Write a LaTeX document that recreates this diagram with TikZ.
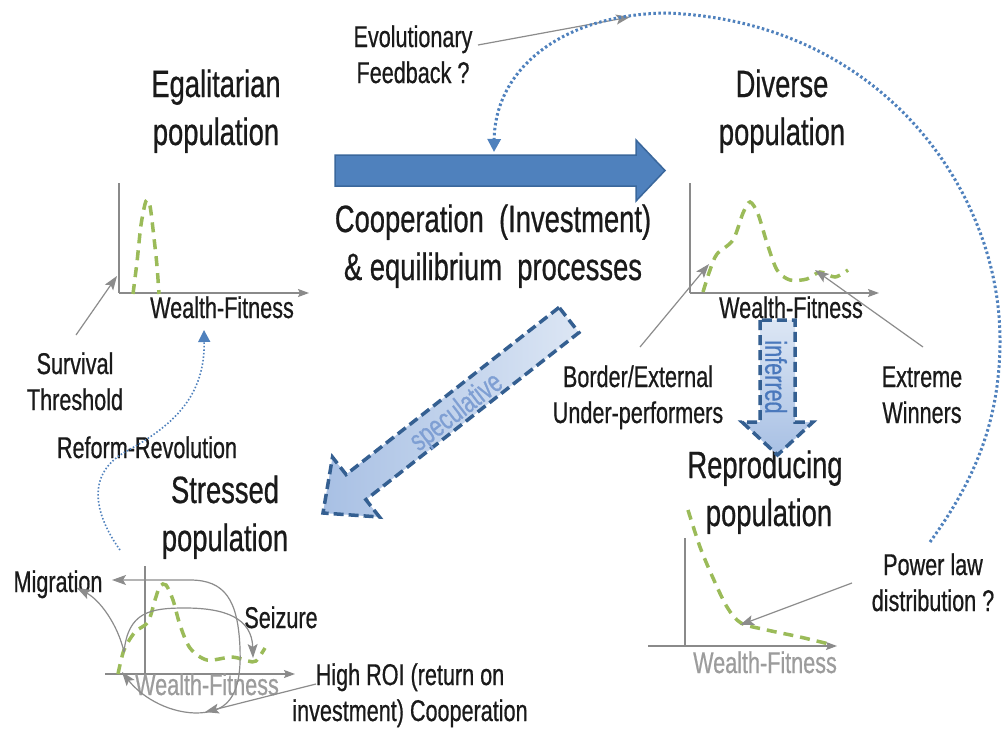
\documentclass[tikz,border=0pt]{standalone}
\usepackage{fontspec}
\setmainfont{Liberation Sans}[FakeStretch=0.72, FakeBold=0.6]
\usetikzlibrary{arrows.meta}
\definecolor{bluefill}{HTML}{4F81BD}
\definecolor{blueedge}{HTML}{3A679C}
\definecolor{dashedge}{HTML}{345F91}
\definecolor{lightA}{HTML}{DCE6F4}
\definecolor{lightB}{HTML}{A8C0E4}
\definecolor{curvegreen}{HTML}{9BBB59}
\definecolor{pointergrey}{HTML}{8C8C8C}
\definecolor{axisgrey}{HTML}{8A8A8A}
\definecolor{dotblue}{HTML}{4F81BD}
\definecolor{labelgrey}{HTML}{9C9C9C}
\definecolor{textdark}{HTML}{1A1A1A}
\definecolor{spectext}{HTML}{7F9FD3}
\definecolor{inftext}{HTML}{4A78BC}
\newcommand\fbig{\fontsize{38}{48}\selectfont}
\newcommand\fsmall{\fontsize{30}{36}\selectfont}
\begin{document}
\begin{tikzpicture}[x=1pt,y=-1pt,
 title/.style={font=\fbig, align=center, anchor=base, inner sep=0pt, text=textdark},
 note/.style={font=\fsmall, align=center, anchor=base, inner sep=0pt, text=textdark},
 wf/.style={font=\fsmall, anchor=base, inner sep=0pt},
 axisline/.style={draw=axisgrey, line width=1.3pt},
 axisarrow/.style={axisline, -{Stealth[length=11pt,width=8pt,inset=2pt]}},
 dist/.style={draw=curvegreen, line width=3.5pt, dash pattern=on 10pt off 7pt},
 pointer/.style={draw=pointergrey, line width=1.2pt, -{Stealth[length=14pt,width=10pt,inset=3pt]}},
 bigdots/.style={draw=dotblue, line width=3pt, dash pattern=on 2.5pt off 2.5pt},
 smalldots/.style={draw=dotblue, line width=1.6pt, dash pattern=on 1.5pt off 2pt},
 blockdash/.style={draw=dashedge, line width=3.5pt, dash pattern=on 10pt off 5pt, line join=miter},
]
\useasboundingbox[fill=white] (0,0) rectangle (1003,728);

% ---------- titles (position = baseline of last line) ----------
\node[title] (egal) at (216,145) {Egalitarian\\population};
\node[title] (div) at (782,145) {Diverse\\population};
\node[title] (coop) at (493,280) {Cooperation~ (Investment)\\\& equilibrium~ processes};
\node[title] (stress) at (225,551) {Stressed\\population};
\node[title] (repro) at (765,526) {Reproducing\\\hspace*{8pt}population};

% ---------- notes ----------
\node[note] (evo) at (413,83) {Evolutionary\\Feedback ?};
\node[note] (surv) at (75,410) {Survival\\Threshold};
\node[note] (reform) at (147,458) {Reform-Revolution};
\node[note] (border) at (638,423) {Border/External\\Under-performers};
\node[note] (extreme) at (922,423) {Extreme\\Winners};
\node[note] (power) at (933,611) {Power law\\distribution ?};
\node[note] (mig) at (58,592) {Migration};
\node[note] (seiz) at (281,628) {Seizure};
\node[note] (roi) at (410,721) {High ROI (return on\\investment) Cooperation};

% ---------- big blue arrow ----------
\path[fill=bluefill, draw=blueedge, line width=1.5pt]
  (335,155) -- (636,155) -- (636,140) -- (665,170.5) -- (636,201) -- (636,186) -- (335,186) -- cycle;

% ---------- speculative arrow ----------
\path[blockdash, left color=lightB, right color=lightA]
  (559.1,307.4) -- (346.1,474.5) -- (332.5,457.2) -- (323,513) -- (379.5,517.0) -- (365.9,499.7) -- (578.9,332.6) -- cycle;
\node[rotate=37.5, font=\fsmall, text=spectext, inner sep=0pt] (spec) at (457,413) {speculative};

% ---------- inferred arrow ----------
\path[blockdash, top color=lightA, bottom color=lightB]
  (760,320) -- (760,422) -- (742,422) -- (777.5,455) -- (813,422) -- (795,422) -- (795,320) -- cycle;
\node[rotate=-90, font=\fsmall, text=inftext, inner sep=0pt] (inf) at (776,377) {inferred};

% ---------- Egalitarian chart ----------
\draw[axisline] (119,183) -- (119,293);
\draw[axisarrow] (119,293) -- (309,293);
\draw[dist] plot[smooth] coordinates {(133,294) (137,262) (141,225) (146,201) (150,206) (154,238) (157,266) (159,294)};
\node[wf, text=textdark] (wf1) at (222,318) {Wealth-Fitness};

% ---------- Diverse chart ----------
\draw[axisline] (690,183) -- (690,293);
\draw[axisarrow] (690,293) -- (879,293);
\draw[dist] plot[smooth] coordinates {(703,292) (710,270) (717,254) (733,240) (743,213) (750,202) (758,214) (767,243) (777,270) (790,280) (807,279) (820,272) (835,277) (848,270)};
\node[wf, text=textdark] (wf2) at (791,318) {Wealth-Fitness};

% ---------- Reproducing chart ----------
\draw[axisline] (685,538) -- (685,646);
\draw[axisarrow] (648,646) -- (837,646);
\draw[dist] plot[smooth] coordinates {(688,510) (700,547) (713,578) (727,607) (741,623) (767,630) (800,637) (833,645)};
\node[wf, text=labelgrey] (wf3) at (765,673) {Wealth-Fitness};

% ---------- Stressed chart ----------
\draw[axisline] (145,566) -- (145,674);
\draw[axisarrow] (105,674) -- (295,674);
\draw[dist] plot[smooth] coordinates {(118,674) (124,650) (135,632) (148,622) (155,600) (160,586) (166,585) (173,600) (180,625) (190,648) (207,660) (232,657) (248,661) (256,661) (265,648)};
\node[wf, text=labelgrey] (wf4) at (207,695) {Wealth-Fitness};

% ---------- coordinates for connectors ----------
\coordinate (evoStart) at (478,45);
\coordinate (evoTip) at (630,17);
\coordinate (survStart) at (76,335);
\coordinate (survTip) at (117,276);
\coordinate (borderStart) at (640,347);
\coordinate (borderTip) at (709,264);
\coordinate (extStart) at (923,347);
\coordinate (extTip) at (815,270);
\coordinate (powStart) at (852,583);
\coordinate (powTip) at (740,625);
\coordinate (roiStart) at (316,684);
\coordinate (roiTip) at (205,712);
\coordinate (dotStart) at (930,542);
\coordinate (dotRight) at (1000,340);
\coordinate (dotTop) at (665,13);
\coordinate (dotEnd) at (494,152);
\coordinate (refStart) at (120,550);
\coordinate (refMid) at (125,452);
\coordinate (refTip) at (204,330);
\coordinate (sRight) at (240,648);
\coordinate (sLeft) at (124,652);
\coordinate (migTop) at (112,580);
\coordinate (migLow) at (77,588);
\coordinate (loopBot) at (195,713);
\coordinate (loopTip) at (122,672);
\coordinate (seizTop) at (185,608);
\coordinate (seizTip) at (253,658);

% ---------- pointers ----------
\draw[pointer] (evoStart) -- (evoTip);
\draw[pointer] (survStart) -- (survTip);
\draw[pointer] (borderStart) -- (borderTip);
\draw[pointer] (extStart) -- (extTip);
\draw[pointer] (powStart) -- (powTip);
\draw[pointer] (roiStart) -- (roiTip);

% ---------- dotted blue curves ----------
\draw[bigdots, -{Triangle[length=13pt,width=13pt]}]
  (dotStart) .. controls (975,480) and (1000,420) .. (dotRight)
  .. controls (1000,190) and (880,20) .. (dotTop)
  .. controls (560,15) and (495,70) .. (dotEnd);
\draw[smalldots, -{Triangle[length=12pt,width=12pt]}]
  (refStart) .. controls (95,515) and (85,475) .. (refMid)
  .. controls (175,425) and (205,395) .. (refTip);

% ---------- stressed population grey curves ----------
\draw[pointer] (sRight) .. controls (238,600) and (225,580) .. (190,580) -- (migTop);
\draw[pointer] (sRight) .. controls (242,700) and (225,713) .. (loopBot) .. controls (165,712) and (140,695) .. (loopTip);
\draw[pointer] (sLeft) .. controls (118,625) and (100,600) .. (migLow);
\draw[pointer] (sLeft) .. controls (128,612) and (150,608) .. (seizTop) .. controls (225,608) and (252,618) .. (seizTip);

\end{tikzpicture}
\end{document}
